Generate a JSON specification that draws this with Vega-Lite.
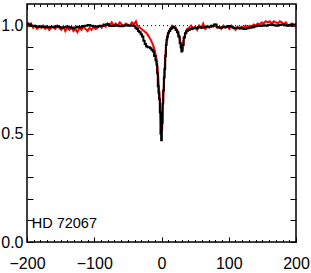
{
  "$schema": "https://vega.github.io/schema/vega-lite/v6.json",
  "width": 269,
  "height": 238,
  "autosize": {"type": "none"},
  "padding": {"left": 27, "top": 4, "right": 15, "bottom": 31},
  "background": "white",
  "config": {
    "view": {"stroke": "black", "strokeWidth": 1.5},
    "axis": {"domain": false, "grid": false, "labelFont": "Liberation Sans", "labelFontSize": 16, "labelColor": "black", "tickColor": "black", "tickWidth": 1, "title": null, "labelFlush": false, "labelOverlap": false, "labelBound": false}
  },
  "resolve": {"axis": {"x": "independent", "y": "independent"}},
  "datasets": {
    "dots": [{"x": -200, "y": 1}, {"x": 200, "y": 1}],
    "label": [{"name": "HD 72067"}],
    "red": [
      {"x":-200,"y":1.015},{"x":-197,"y":1.0},{"x":-194,"y":1.01},{"x":-191,"y":0.99},{"x":-188,"y":1.0},{"x":-185,"y":0.985},{"x":-182,"y":0.995},{"x":-179,"y":0.99},{"x":-176,"y":1.0},{"x":-173,"y":0.985},{"x":-170,"y":0.995},{"x":-167,"y":0.98},{"x":-164,"y":0.99},{"x":-161,"y":0.995},{"x":-158,"y":0.985},{"x":-155,"y":1.0},{"x":-152,"y":0.99},{"x":-149,"y":0.98},{"x":-146,"y":0.995},{"x":-143,"y":0.975},{"x":-140,"y":0.99},{"x":-137,"y":0.98},{"x":-134,"y":0.995},{"x":-131,"y":0.975},{"x":-128,"y":0.985},{"x":-125,"y":0.97},{"x":-122,"y":0.99},{"x":-119,"y":0.98},{"x":-116,"y":0.995},{"x":-113,"y":0.985},{"x":-110,"y":0.975},{"x":-107,"y":0.99},{"x":-104,"y":0.98},{"x":-101,"y":0.995},{"x":-98,"y":0.985},{"x":-95,"y":0.99},{"x":-92,"y":1.0},{"x":-89,"y":0.99},{"x":-86,"y":1.005},{"x":-83,"y":0.995},{"x":-80,"y":1.01},{"x":-77,"y":1.0},{"x":-74,"y":1.015},{"x":-71,"y":1.0},{"x":-68,"y":1.01},{"x":-65,"y":1.0},{"x":-62,"y":1.015},{"x":-59,"y":1.005},{"x":-56,"y":1.0},{"x":-53,"y":1.01},{"x":-50,"y":1.005},{"x":-47,"y":1.0},{"x":-44,"y":1.015},{"x":-41,"y":1.005},{"x":-38,"y":1.02},{"x":-36,"y":1.0},{"x":-34,"y":0.995},{"x":-32,"y":0.99},{"x":-30,"y":0.985},{"x":-28,"y":0.98},{"x":-26,"y":0.975},{"x":-24,"y":0.97},{"x":-22,"y":0.965},{"x":-20,"y":0.955},{"x":-18,"y":0.945},{"x":-16,"y":0.935},{"x":-14,"y":0.92},{"x":-12,"y":0.905},{"x":-10,"y":0.885},{"x":-8,"y":0.855},{"x":-7,"y":0.83},{"x":-6,"y":0.81},{"x":-5,"y":0.77},{"x":-4,"y":0.72},{"x":-3,"y":0.68},{"x":-2,"y":0.63},{"x":-1,"y":0.56},{"x":0,"y":0.51},{"x":1,"y":0.52},{"x":2,"y":0.62},{"x":3,"y":0.69},{"x":4,"y":0.76},{"x":5,"y":0.82},{"x":6,"y":0.87},{"x":7,"y":0.91},{"x":8,"y":0.935},{"x":9,"y":0.95},{"x":10,"y":0.965},{"x":12,"y":0.98},{"x":14,"y":0.99},{"x":16,"y":1.0},{"x":18,"y":0.995},{"x":20,"y":0.99},{"x":22,"y":0.985},{"x":24,"y":0.975},{"x":26,"y":0.955},{"x":28,"y":0.925},{"x":29,"y":0.905},{"x":30,"y":0.89},{"x":31,"y":0.895},{"x":32,"y":0.92},{"x":34,"y":0.95},{"x":36,"y":0.97},{"x":38,"y":0.985},{"x":41,"y":0.99},{"x":44,"y":1.0},{"x":47,"y":0.985},{"x":50,"y":0.995},{"x":53,"y":0.98},{"x":56,"y":1.0},{"x":59,"y":0.99},{"x":62,"y":1.01},{"x":65,"y":0.985},{"x":68,"y":0.995},{"x":71,"y":0.99},{"x":74,"y":1.0},{"x":77,"y":0.995},{"x":80,"y":1.005},{"x":83,"y":0.99},{"x":86,"y":0.995},{"x":89,"y":0.985},{"x":92,"y":1.0},{"x":95,"y":0.99},{"x":98,"y":0.995},{"x":101,"y":0.985},{"x":104,"y":1.0},{"x":107,"y":0.99},{"x":110,"y":0.98},{"x":113,"y":0.995},{"x":116,"y":0.985},{"x":119,"y":0.995},{"x":122,"y":0.99},{"x":125,"y":1.0},{"x":128,"y":0.99},{"x":131,"y":1.0},{"x":134,"y":0.995},{"x":137,"y":1.005},{"x":140,"y":1.0},{"x":143,"y":1.01},{"x":146,"y":1.005},{"x":149,"y":1.015},{"x":152,"y":1.01},{"x":155,"y":1.02},{"x":158,"y":1.015},{"x":161,"y":1.02},{"x":164,"y":1.01},{"x":167,"y":1.02},{"x":170,"y":1.015},{"x":173,"y":1.01},{"x":176,"y":1.02},{"x":179,"y":1.015},{"x":182,"y":1.005},{"x":185,"y":1.015},{"x":188,"y":1.0},{"x":191,"y":1.005},{"x":194,"y":1.01},{"x":197,"y":1.0},{"x":200,"y":1.005}
    ],
    "black": [
      {"x":-200,"y":1.01},{"x":-196,"y":1.005},{"x":-192,"y":1.0},{"x":-188,"y":0.998},{"x":-184,"y":0.995},{"x":-180,"y":0.997},{"x":-176,"y":0.993},{"x":-172,"y":0.996},{"x":-168,"y":0.992},{"x":-164,"y":0.995},{"x":-160,"y":0.993},{"x":-156,"y":0.997},{"x":-152,"y":0.994},{"x":-148,"y":0.99},{"x":-144,"y":0.993},{"x":-140,"y":0.996},{"x":-136,"y":0.992},{"x":-132,"y":0.988},{"x":-128,"y":0.991},{"x":-124,"y":0.995},{"x":-120,"y":0.993},{"x":-116,"y":0.998},{"x":-112,"y":1.0},{"x":-108,"y":1.003},{"x":-104,"y":1.0},{"x":-100,"y":0.997},{"x":-96,"y":0.995},{"x":-92,"y":0.998},{"x":-88,"y":1.0},{"x":-84,"y":1.004},{"x":-80,"y":1.006},{"x":-76,"y":1.0},{"x":-72,"y":0.998},{"x":-68,"y":1.001},{"x":-64,"y":1.0},{"x":-60,"y":0.997},{"x":-56,"y":1.0},{"x":-52,"y":1.002},{"x":-48,"y":1.0},{"x":-44,"y":1.001},{"x":-40,"y":0.998},{"x":-38,"y":0.99},{"x":-36,"y":0.985},{"x":-34,"y":0.975},{"x":-32,"y":0.97},{"x":-30,"y":0.96},{"x":-28,"y":0.95},{"x":-26,"y":0.93},{"x":-24,"y":0.915},{"x":-22,"y":0.905},{"x":-20,"y":0.9},{"x":-18,"y":0.9},{"x":-16,"y":0.895},{"x":-14,"y":0.888},{"x":-12,"y":0.88},{"x":-10,"y":0.86},{"x":-8,"y":0.84},{"x":-7,"y":0.82},{"x":-6,"y":0.78},{"x":-5,"y":0.72},{"x":-4,"y":0.69},{"x":-3,"y":0.66},{"x":-2,"y":0.6},{"x":-1,"y":0.5},{"x":0,"y":0.47},{"x":1,"y":0.55},{"x":2,"y":0.64},{"x":3,"y":0.7},{"x":4,"y":0.76},{"x":5,"y":0.8},{"x":6,"y":0.86},{"x":7,"y":0.91},{"x":8,"y":0.935},{"x":9,"y":0.95},{"x":10,"y":0.965},{"x":12,"y":0.975},{"x":14,"y":0.985},{"x":16,"y":0.99},{"x":18,"y":0.995},{"x":20,"y":0.99},{"x":22,"y":0.98},{"x":24,"y":0.97},{"x":26,"y":0.95},{"x":28,"y":0.92},{"x":29,"y":0.9},{"x":30,"y":0.88},{"x":31,"y":0.885},{"x":32,"y":0.91},{"x":34,"y":0.945},{"x":36,"y":0.965},{"x":38,"y":0.975},{"x":40,"y":0.98},{"x":44,"y":0.985},{"x":48,"y":0.99},{"x":52,"y":0.988},{"x":56,"y":0.992},{"x":60,"y":0.99},{"x":64,"y":0.993},{"x":68,"y":0.996},{"x":72,"y":0.995},{"x":76,"y":1.0},{"x":80,"y":1.005},{"x":84,"y":0.993},{"x":88,"y":0.99},{"x":92,"y":0.992},{"x":96,"y":0.995},{"x":100,"y":0.998},{"x":104,"y":0.995},{"x":108,"y":0.99},{"x":112,"y":0.988},{"x":116,"y":0.99},{"x":120,"y":0.987},{"x":124,"y":0.985},{"x":128,"y":0.988},{"x":132,"y":0.99},{"x":136,"y":0.993},{"x":140,"y":0.997},{"x":144,"y":1.0},{"x":148,"y":0.998},{"x":152,"y":1.002},{"x":156,"y":1.0},{"x":160,"y":1.003},{"x":164,"y":1.005},{"x":168,"y":1.002},{"x":172,"y":1.0},{"x":176,"y":1.003},{"x":180,"y":1.005},{"x":184,"y":1.002},{"x":188,"y":1.0},{"x":192,"y":1.003},{"x":196,"y":1.005},{"x":200,"y":1.005}
    ]
  },
  "layer": [
    {
      "data": {"name": "dots"},
      "mark": {"type": "line", "color": "black", "strokeWidth": 1, "strokeDash": [1, 3]},
      "encoding": {
        "x": {"field": "x", "type": "quantitative", "scale": {"domain": [-200, 200], "nice": false, "zero": false},
          "axis": {"orient": "bottom", "values": [-200,-190,-180,-170,-160,-150,-140,-130,-120,-110,-100,-90,-80,-70,-60,-50,-40,-30,-20,-10,0,10,20,30,40,50,60,70,80,90,100,110,120,130,140,150,160,170,180,190,200],
            "labelExpr": "datum.value % 100 === 0 ? datum.label : ''",
            "tickSize": {"condition": {"test": "datum.value % 100 === 0", "value": -5}, "value": -2.5},
            "labelPadding": 18}},
        "y": {"field": "y", "type": "quantitative", "scale": {"domain": [0, 1.1], "nice": false, "zero": false},
          "axis": {"orient": "left", "values": [0,0.1,0.2,0.3,0.4,0.5,0.6,0.7,0.8,0.9,1.0],
            "labelExpr": "round(datum.value * 10) % 5 === 0 ? format(datum.value, '.1f') : ''",
            "tickSize": -6, "labelPadding": 10}}
      }
    },
    {
      "data": {"name": "red"},
      "mark": {"type": "line", "color": "#ff0000", "strokeWidth": 2},
      "encoding": {
        "x": {"field": "x", "type": "quantitative",
          "axis": {"orient": "top", "values": [-200,-190,-180,-170,-160,-150,-140,-130,-120,-110,-100,-90,-80,-70,-60,-50,-40,-30,-20,-10,0,10,20,30,40,50,60,70,80,90,100,110,120,130,140,150,160,170,180,190,200],
            "labels": false,
            "tickSize": {"condition": {"test": "datum.value % 100 === 0", "value": -5}, "value": -2.5}}},
        "y": {"field": "y", "type": "quantitative",
          "axis": {"orient": "right", "values": [0,0.1,0.2,0.3,0.4,0.5,0.6,0.7,0.8,0.9,1.0], "labels": false, "tickSize": -6}}
      }
    },
    {
      "data": {"name": "black"},
      "mark": {"type": "line", "color": "black", "strokeWidth": 2, "interpolate": "step"},
      "encoding": {
        "x": {"field": "x", "type": "quantitative", "axis": null},
        "y": {"field": "y", "type": "quantitative", "axis": null}
      }
    },
    {
      "data": {"name": "label"},
      "mark": {"type": "text", "align": "left", "baseline": "alphabetic", "font": "Liberation Sans", "fontSize": 14.5, "color": "black"},
      "encoding": {
        "x": {"datum": -193, "type": "quantitative", "axis": null},
        "y": {"datum": 0.065, "type": "quantitative", "axis": null},
        "text": {"field": "name", "type": "nominal"}
      }
    }
  ]
}
